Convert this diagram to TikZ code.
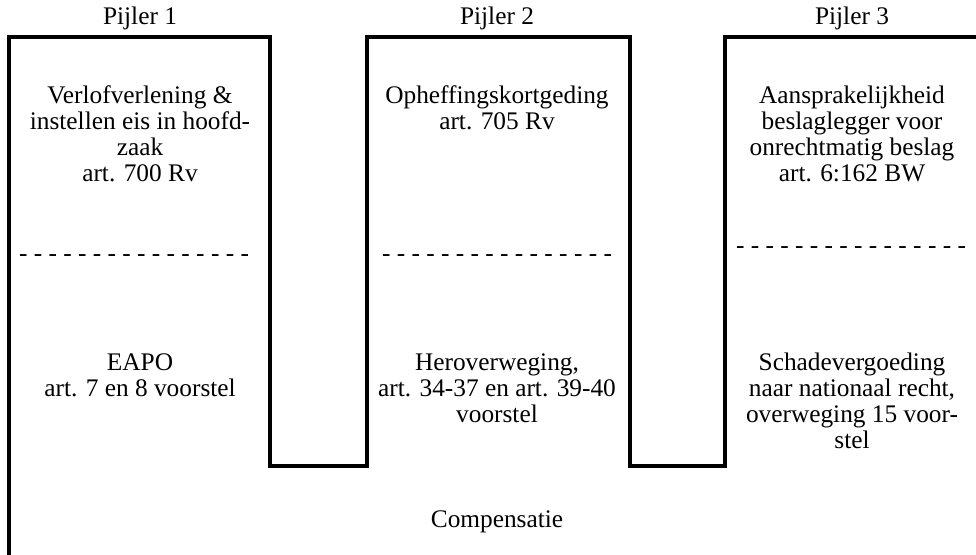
\documentclass[tikz,border=0pt]{standalone}
\usepackage{fontspec}
\setmainfont{Liberation Serif}
\begin{document}
\begin{tikzpicture}[x=0.75pt,y=-0.75pt,
  wall/.style={line width=3.2pt,line join=miter,line cap=butt},
  txt/.style={align=center,inner sep=0pt,font=\fontsize{19}{19.5}\selectfont},
  dashtext/.style={inner sep=0pt,font=\fontsize{19}{19.5}\selectfont}]
\useasboundingbox (0,0) rectangle (976,555);
\draw[wall] (9,555) -- (9,37) -- (270,37) -- (270,466) -- (367,466) -- (367,37)
  -- (630,37) -- (630,466) -- (725,466) -- (725,37) -- (976,37);
\node[txt] (p1) at (140,18) {Pijler 1};
\node[txt] (p2) at (497,18) {Pijler 2};
\node[txt] (p3) at (852,18) {Pijler 3};
\node[txt] (a1) at (140,134) {Verlofverlening \&\\instellen eis in hoofd-\\zaak\\art. 700 Rv};
\node[dashtext] (d1) at (134,258) {- - - - - - - - - - - - - - - -};
\node[txt] (b1) at (140,375) {EAPO\\art. 7 en 8 voorstel};
\node[txt] (a2) at (497,108) {Opheffingskortgeding\\art. 705 Rv};
\node[dashtext] (d2) at (497,258) {- - - - - - - - - - - - - - - -};
\node[txt] (b2) at (497,388) {Heroverweging,\\art. 34-37 en art. 39-40\\voorstel};
\node[txt] (a3) at (852,134) {Aansprakelijkheid\\beslaglegger voor\\onrechtmatig beslag\\art. 6:162 BW};
\node[dashtext] (d3) at (851,250) {- - - - - - - - - - - - - - - -};
\node[txt] (b3) at (852,401) {Schadevergoeding\\naar nationaal recht,\\overweging 15 voor-\\stel};
\node[txt] (c) at (497,522) {Compensatie};
\end{tikzpicture}
\end{document}
